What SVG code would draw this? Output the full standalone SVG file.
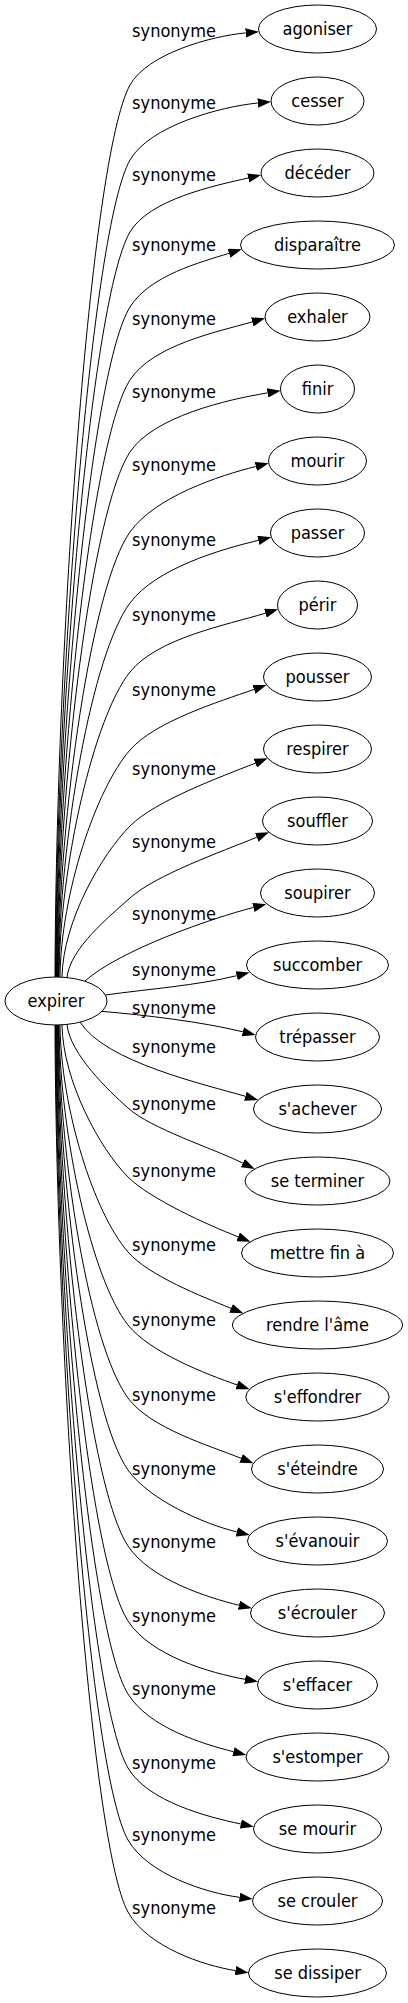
<svg xmlns="http://www.w3.org/2000/svg" width="408" height="2003" viewBox="0 0 408 2003">
<style>
.n ellipse{fill:none;stroke:#000;stroke-width:1}
.c path{fill:none;stroke:#000;stroke-width:1;marker-end:url(#ah)}
text{font-family:"DejaVu Sans Condensed","Liberation Sans",sans-serif;font-size:18px;fill:#000;text-anchor:middle}
</style>
<defs>
<marker id="ah" viewBox="0 0 13.3 9.4" refX="0" refY="4.7" markerWidth="13.3" markerHeight="9.4" markerUnits="userSpaceOnUse" orient="auto"><path d="M0,0 L13.3,4.7 L0,9.4 Z" fill="#000"/></marker>
</defs>
<rect width="408" height="2003" fill="#fff"/>
<g id="connectors" class="c">
<g id="e1"><path d="M55,977 C56,647 90,157 130,85 C147.4,53.7 211.1,36.1 245.7,32.9"/><text x="174" y="36.5">synonyme</text></g>
<g id="e2"><path d="M55.5,977 C56.5,675 92,226.5 130,160 C149.5,125.9 219.7,106.8 257.8,103"/><text x="174" y="108.5">synonyme</text></g>
<g id="e3"><path d="M56,977 C57,701.3 92,296.6 130,232 C149.1,199.5 213.6,185.8 248.2,178"/><text x="174" y="180.5">synonyme</text></g>
<g id="e4"><path d="M56.5,977 C57.5,729 92,367.8 130,307 C149.8,275.3 200.7,262.2 229,253.3"/><text x="174" y="251">synonyme</text></g>
<g id="e5"><path d="M57,977 C58,756.1 92,438.9 130,380 C152.5,345.1 217,331.9 252.3,321.9"/><text x="174" y="324.5">synonyme</text></g>
<g id="e6"><path d="M57.5,977 C58.5,782.8 92,509 130,452 C153.6,416.6 226.8,399.6 267.5,392.9"/><text x="174" y="397.5">synonyme</text></g>
<g id="e7"><path d="M58,977 C59,812.4 92,585.2 130,532 C155.2,496.7 219.2,475.6 255.8,466.5"/><text x="174" y="471">synonyme</text></g>
<g id="e8"><path d="M58.5,977 C59.5,838.6 92,654.3 130,603 C155.7,568.3 220.8,549.3 258.3,540.4"/><text x="174" y="546">synonyme</text></g>
<g id="e9"><path d="M59,977 C60,864.2 94,717 130,672 C157.1,638.1 226.5,625 265.4,613.2"/><text x="174" y="621">synonyme</text></g>
<g id="e10"><path d="M60,977 C61,893 96,789.1 130,750 C154.8,721.5 218.9,701.7 254,689.4"/><text x="174" y="696">synonyme</text></g>
<g id="e11"><path d="M62,977 C63,921.1 102,854 130,826 C155.1,800.9 220.3,777 255.3,763.2"/><text x="174" y="774.5">synonyme</text></g>
<g id="e12"><path d="M67,977.6 C70,948 110,916 130,898 C155.3,875.2 221.5,851.6 256.7,837.3"/><text x="174" y="847.5">synonyme</text></g>
<g id="e13"><path d="M85,981 C120,950 212,918 253.4,907.5"/><text x="174" y="919.5">synonyme</text></g>
<g id="e14"><path d="M105.5,995 C148,989 195.9,985.7 236.7,975.7"/><text x="174" y="975.5">synonyme</text></g>
<g id="e15"><path d="M102,1011.4 C145,1015 202,1021.8 242.8,1031.8"/><text x="174" y="1013.5">synonyme</text></g>
<g id="e16"><path d="M80,1022 C105,1062 205,1084.5 245.4,1096.3"/><text x="174" y="1052.5">synonyme</text></g>
<g id="e17"><path d="M67,1024.4 C70,1054 108,1090 128,1108 C151,1128.7 211.9,1147.9 242.8,1163.1"/><text x="174" y="1109.5">synonyme</text></g>
<g id="e18"><path d="M62,1025 C63,1081.2 100,1149 128,1177 C150,1199 207.4,1224.7 238.1,1236.8"/><text x="174" y="1177">synonyme</text></g>
<g id="e19"><path d="M60,1025 C61,1109 94,1212.9 128,1252 C148.6,1275.7 202.4,1296.7 231,1308.3"/><text x="174" y="1250.5">synonyme</text></g>
<g id="e20"><path d="M59,1025 C60,1136 92,1280 128,1325 C149.8,1352.3 206.1,1374.1 237,1384.9"/><text x="174" y="1325.5">synonyme</text></g>
<g id="e21"><path d="M58.5,1025 C59.5,1163 90,1346.7 128,1398 C150.6,1428.5 209.7,1445.6 241.1,1458.3"/><text x="174" y="1400.5">synonyme</text></g>
<g id="e22"><path d="M58,1025 C59,1189.7 90,1416.8 128,1470 C149.8,1500.5 205.1,1524.3 236.8,1531.9"/><text x="174" y="1474.5">synonyme</text></g>
<g id="e23"><path d="M57.5,1025 C58.5,1217.8 90,1489 128,1546 C150.2,1579.3 206.6,1597.3 238.9,1605.2"/><text x="174" y="1548">synonyme</text></g>
<g id="e24"><path d="M57,1025 C58,1245.5 90,1562.1 128,1621 C150.6,1656 210.5,1673 245,1679.3"/><text x="174" y="1621.5">synonyme</text></g>
<g id="e25"><path d="M56.5,1025 C57.5,1272.5 90,1633.2 128,1694 C149.1,1727.8 202.8,1743.9 233.4,1751.7"/><text x="174" y="1695">synonyme</text></g>
<g id="e26"><path d="M56,1025 C57,1299.9 90,1703.4 128,1768 C147.8,1801.7 207.7,1817 240.8,1824"/><text x="174" y="1769">synonyme</text></g>
<g id="e27"><path d="M55.5,1025 C56.5,1326.6 90,1773.5 128,1840 C147.6,1874.3 206.3,1893.1 239.5,1897.3"/><text x="174" y="1840.5">synonyme</text></g>
<g id="e28"><path d="M55,1025 C56,1353 90,1843.6 128,1912 C147.5,1947.1 203.6,1965.5 235.4,1970.6"/><text x="174" y="1914">synonyme</text></g>
</g>
<g id="expirer" class="n"><ellipse cx="56" cy="1001" rx="51" ry="24"/><text x="56" y="1006.5">expirer</text></g>
<g id="n1" class="n"><ellipse cx="317.5" cy="29" rx="59" ry="24"/><text x="317.5" y="34.5">agoniser</text></g>
<g id="n2" class="n"><ellipse cx="317.5" cy="101" rx="46.5" ry="24"/><text x="317.5" y="106.5">cesser</text></g>
<g id="n3" class="n"><ellipse cx="317.5" cy="173" rx="56.5" ry="24"/><text x="317.5" y="178.5">décéder</text></g>
<g id="n4" class="n"><ellipse cx="317.5" cy="245" rx="77" ry="24"/><text x="317.5" y="250.5">disparaître</text></g>
<g id="n5" class="n"><ellipse cx="317.5" cy="317" rx="52.5" ry="24"/><text x="317.5" y="322.5">exhaler</text></g>
<g id="n6" class="n"><ellipse cx="317.5" cy="389" rx="37" ry="24"/><text x="317.5" y="394.5">finir</text></g>
<g id="n7" class="n"><ellipse cx="317.5" cy="461" rx="49" ry="24"/><text x="317.5" y="466.5">mourir</text></g>
<g id="n8" class="n"><ellipse cx="317.5" cy="533" rx="47" ry="24"/><text x="317.5" y="538.5">passer</text></g>
<g id="n9" class="n"><ellipse cx="317.5" cy="605" rx="40" ry="24"/><text x="317.5" y="610.5">périr</text></g>
<g id="n10" class="n"><ellipse cx="317.5" cy="677" rx="54" ry="24"/><text x="317.5" y="682.5">pousser</text></g>
<g id="n11" class="n"><ellipse cx="317.5" cy="749" rx="54" ry="24"/><text x="317.5" y="754.5">respirer</text></g>
<g id="n12" class="n"><ellipse cx="317.5" cy="821" rx="55" ry="24"/><text x="317.5" y="826.5">souffler</text></g>
<g id="n13" class="n"><ellipse cx="317.5" cy="893" rx="57" ry="24"/><text x="317.5" y="898.5">soupirer</text></g>
<g id="n14" class="n"><ellipse cx="317.5" cy="965" rx="71" ry="24"/><text x="317.5" y="970.5">succomber</text></g>
<g id="n15" class="n"><ellipse cx="317.5" cy="1037" rx="62" ry="24"/><text x="317.5" y="1042.5">trépasser</text></g>
<g id="n16" class="n"><ellipse cx="317.5" cy="1109" rx="64" ry="24"/><text x="317.5" y="1114.5">s'achever</text></g>
<g id="n17" class="n"><ellipse cx="317.5" cy="1181" rx="72.5" ry="24"/><text x="317.5" y="1186.5">se terminer</text></g>
<g id="n18" class="n"><ellipse cx="317.5" cy="1253" rx="76" ry="24"/><text x="317.5" y="1258.5">mettre fin à</text></g>
<g id="n19" class="n"><ellipse cx="317.5" cy="1325" rx="85" ry="24"/><text x="317.5" y="1330.5">rendre l'âme</text></g>
<g id="n20" class="n"><ellipse cx="317.5" cy="1397" rx="71.7" ry="24"/><text x="317.5" y="1402.5">s'effondrer</text></g>
<g id="n21" class="n"><ellipse cx="317.5" cy="1469" rx="66" ry="24"/><text x="317.5" y="1474.5">s'éteindre</text></g>
<g id="n22" class="n"><ellipse cx="317.5" cy="1541" rx="70" ry="24"/><text x="317.5" y="1546.5">s'évanouir</text></g>
<g id="n23" class="n"><ellipse cx="317.5" cy="1613" rx="67" ry="24"/><text x="317.5" y="1618.5">s'écrouler</text></g>
<g id="n24" class="n"><ellipse cx="317.5" cy="1685" rx="60" ry="24"/><text x="317.5" y="1690.5">s'effacer</text></g>
<g id="n25" class="n"><ellipse cx="317.5" cy="1757" rx="71.5" ry="24"/><text x="317.5" y="1762.5">s'estomper</text></g>
<g id="n26" class="n"><ellipse cx="317.5" cy="1829" rx="64" ry="24"/><text x="317.5" y="1834.5">se mourir</text></g>
<g id="n27" class="n"><ellipse cx="317.5" cy="1901" rx="65" ry="24"/><text x="317.5" y="1906.5">se crouler</text></g>
<g id="n28" class="n"><ellipse cx="317.5" cy="1973" rx="69" ry="24"/><text x="317.5" y="1978.5">se dissiper</text></g>
</svg>
